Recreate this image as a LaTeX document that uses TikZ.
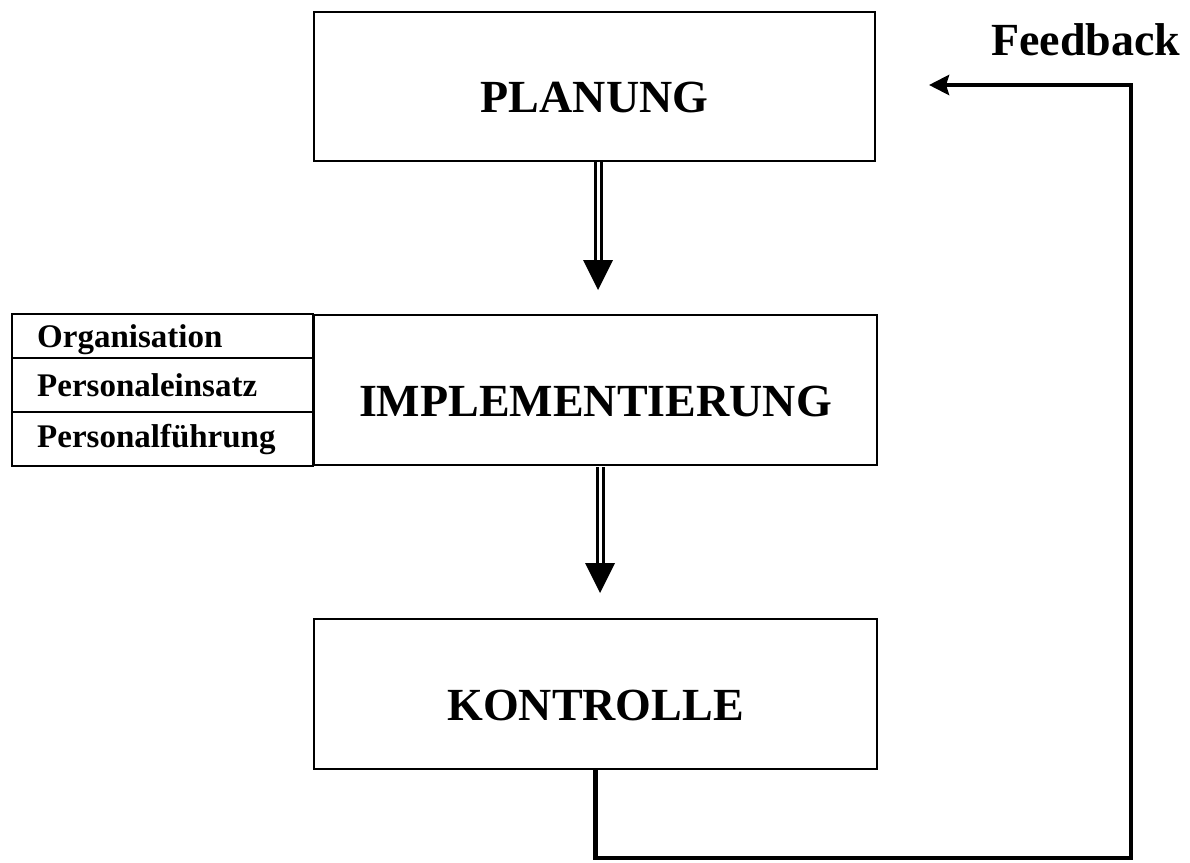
\documentclass[tikz,border=0pt]{standalone}
\usepackage{fontspec}
\setmainfont{Liberation Serif}
\usetikzlibrary{arrows.meta,calc}

\begin{document}
\begin{tikzpicture}[x=1pt,y=-1pt,
  stage/.style={draw, line width=2pt, inner sep=0pt, anchor=north west,
    font=\bfseries\fontsize{46}{50}\selectfont, text height=53pt, text depth=0pt},
  task/.style={inner sep=0pt, anchor=base west, font=\bfseries\fontsize{33}{36}\selectfont},
  shaft/.style={draw, line width=3pt, double=white, double distance=3pt},
  head/.style={fill=black, draw=none},
  loop/.style={draw, line width=4.5pt, line join=miter},
  title/.style={inner sep=0pt, font=\bfseries\fontsize{46}{50}\selectfont}]

\useasboundingbox (0,0) rectangle (1190,862);

% three process stages
\node[stage, minimum width=561pt, minimum height=149pt] (plan) at (313,10.5) {PLANUNG};
\node[stage, minimum width=563pt, minimum height=150pt] (impl) at (313,314) {IMPLEMENTIERUNG};
\node[stage, minimum width=563pt, minimum height=150pt] (kontr) at (313,618) {KONTROLLE};

% side panel of implementation tasks
\draw[line width=2pt] (12,314) rectangle (impl.south west);
\draw[line width=2pt] (12,358) -- (313,358);
\draw[line width=2pt] (12,412) -- (313,412);
\node[task] (org) at (37,347) {Organisation};
\node[task] (pein) at (37,396) {Personaleinsatz};
\node[task] (pfue) at (37,447) {Personalführung};

% downward arrows between the stages
\coordinate (h1) at (598,260);
\coordinate (h2) at (600,563);
\draw[shaft] (plan.south -| h1) -- ($(h1)+(0,1)$);
\fill[head] ($(h1)+(-15,0)$) -- ($(h1)+(15,0)$) -- ($(h1)+(0,30)$) -- cycle;
\draw[shaft] ($(impl.south -| h2)+(0,1)$) -- ($(h2)+(0,1)$);
\fill[head] ($(h2)+(-15,0)$) -- ($(h2)+(15,0)$) -- ($(h2)+(0,30)$) -- cycle;

% feedback loop back to planning
\coordinate (fb1) at (595.5,858);
\coordinate (fb2) at (1131,858);
\coordinate (fb3) at (1131,85);
\coordinate (fbend) at (929,85);
\draw[loop, -{Stealth[length=20pt,width=20pt,inset=3pt]}]
  (kontr.south -| fb1) -- (fb1) -- (fb2) -- (fb3) -- (fbend);
\node[title] (fb) at (1086,40) {Feedback};

\end{tikzpicture}
\end{document}
